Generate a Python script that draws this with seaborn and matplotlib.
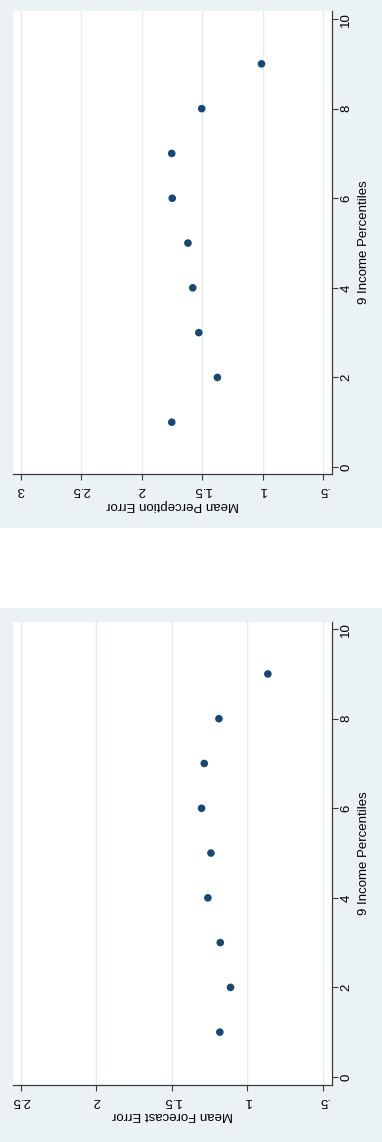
import matplotlib
matplotlib.use("Agg")
import matplotlib.pyplot as plt
from matplotlib.patches import Rectangle
import seaborn as sns
import pandas as pd

# Income group (9 percentile bins) and the two mean error series
percentiles = [1, 2, 3, 4, 5, 6, 7, 8, 9]
perception_error = [1.752, 1.374, 1.528, 1.578, 1.618, 1.748, 1.752, 1.504, 1.009]
forecast_error = [1.183, 1.112, 1.180, 1.262, 1.242, 1.304, 1.286, 1.189, 0.865]

pct_ticks = [0, 2, 4, 6, 8, 10]
perception_ticks = [0.5, 1, 1.5, 2, 2.5, 3]
perception_labels = [".5", "1", "1.5", "2", "2.5", "3"]
forecast_ticks = [0.5, 1, 1.5, 2, 2.5]
forecast_labels = [".5", "1", "1.5", "2", "2.5"]

BG = "#EAF2F3"
GRID = "#E3ECEE"
DOT = "#1A476F"
AXC = "#3a3a3a"

plt.rcParams["font.family"] = ["Liberation Sans", "DejaVu Sans"]

W, H = 382, 1142
fig = plt.figure(figsize=(W / 100, H / 100), dpi=100, facecolor="white")


def px_box(left, top, right, bottom):
    return [left / W, 1 - bottom / H, (right - left) / W, (bottom - top) / H]


# panel backgrounds, drawn beneath the axes
fig.patches.append(Rectangle((0, 1 - 528 / H), 1, 528 / H, transform=fig.transFigure,
                             facecolor=BG, edgecolor="none", zorder=-5))
fig.patches.append(Rectangle((0, 0), 1, (H - 607.5) / H, transform=fig.transFigure,
                             facecolor=BG, edgecolor="none", zorder=-5))


def panel(box, values, vlim, plim, vticks, vlabels, vtitle):
    ax = fig.add_axes(box)
    ax.set_facecolor("white")
    df = pd.DataFrame({"value": values, "pct": percentiles})
    sns.scatterplot(data=df, x="value", y="pct", ax=ax, color=DOT, s=30,
                    edgecolor="none", linewidth=0, zorder=3)
    ax.set_xlim(*vlim)
    ax.set_ylim(*plim)
    ax.set_xticks(vticks)
    ax.set_xticklabels(vlabels, rotation=180)
    ax.set_yticks(pct_ticks)
    ax.set_yticklabels([str(t) for t in pct_ticks], rotation=90, va="center")
    ax.yaxis.tick_right()
    ax.yaxis.set_label_position("right")
    for s in ("top", "left"):
        ax.spines[s].set_visible(False)
    for s in ("right", "bottom"):
        ax.spines[s].set_color(AXC)
        ax.spines[s].set_linewidth(0.9)
    ax.tick_params(axis="both", length=4, width=0.8, color=AXC, labelsize=9.5,
                   labelcolor="black")
    ax.tick_params(axis="x", pad=3)
    ax.tick_params(axis="y", pad=2)
    ax.grid(axis="x", color=GRID, linewidth=1.0, zorder=0)
    ax.grid(axis="y", visible=False)
    ax.set_axisbelow(True)
    ax.set_xlabel(vtitle, rotation=180, fontsize=9.5, labelpad=2)
    ax.set_ylabel("9 Income Percentiles", rotation=90, fontsize=9.5, labelpad=4)
    return ax


panel(px_box(13, 11, 332, 474), perception_error, (3.066, 0.4255), (-0.156, 10.18),
      perception_ticks, perception_labels, "Mean Perception Error")
panel(px_box(13, 622, 332, 1085), forecast_error, (2.553, 0.44), (-0.18, 10.16),
      forecast_ticks, forecast_labels, "Mean Forecast Error")

fig.savefig("out.png", dpi=100, facecolor="white")
